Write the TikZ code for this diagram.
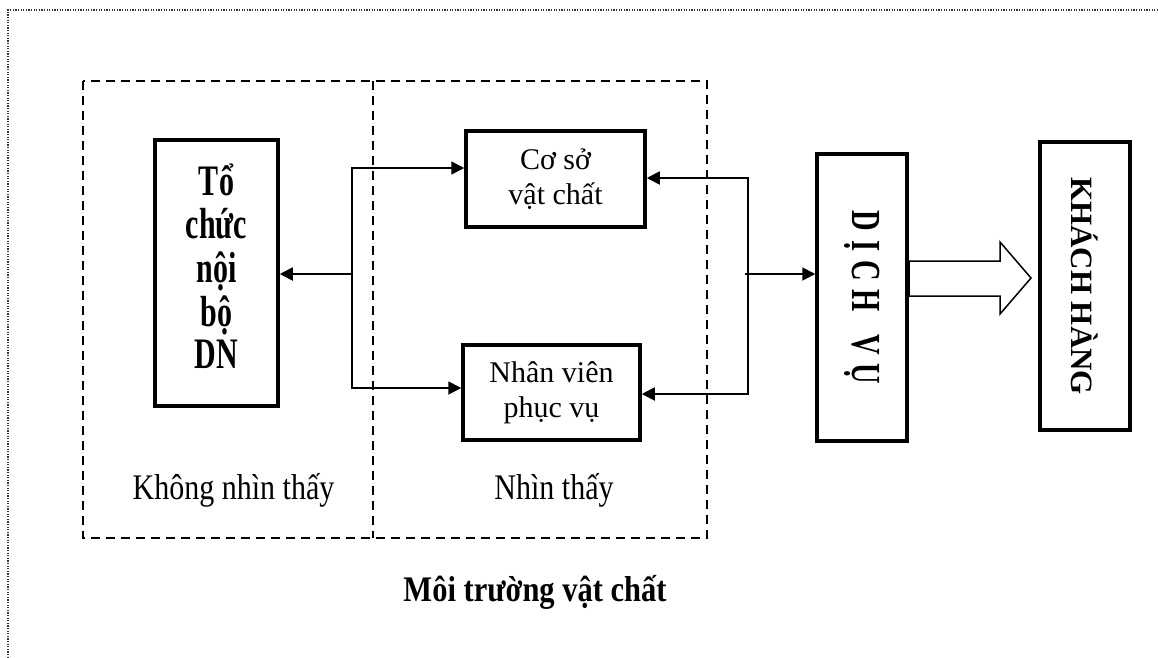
\documentclass[tikz,border=0pt]{standalone}
\usepackage{fontspec}
\setmainfont{Liberation Serif}
\usepackage{graphicx}
\usetikzlibrary{arrows.meta,calc}
\begin{document}
\begin{tikzpicture}[x=1pt,y=-1pt,
  box/.style={draw,line width=3.5pt,inner sep=0pt,align=center},
  region/.style={draw,line width=1.8pt,dash pattern=on 9pt off 6pt},
  conn/.style={line width=1.8pt},
  tip/.tip={Triangle[length=13pt,width=13pt]},
  arr/.style={conn,-tip},
  txt/.style={font=\fontsize{30}{35}\selectfont},
  btxt/.style={font=\bfseries\fontsize{30.5}{35}\selectfont},
]
\useasboundingbox (0,0) rectangle (1158,657);
% page frame
\draw[line width=1.2pt, dash pattern=on 1.2pt off 1.4pt, black!80] (1158,10) -- (8,10) -- (8,657);
% regions
\draw[region] (83,81) rectangle (707,538);
\draw[region] (373,81) -- (373,538);
% boxes
\node[box, minimum width=123pt, minimum height=266pt, font=\bfseries\fontsize{30}{29.6}\selectfont] (tochuc) at (216.5,273)
  {\scalebox{1}[1.45]{\begin{tabular}{@{}c@{}}Tổ\\chức\\nội\\bộ\\DN\end{tabular}}};
\node[box, txt, minimum width=179pt, minimum height=96pt] (coso) at (555.5,179) {Cơ sở\\vật chất};
\node[box, txt, minimum width=177pt, minimum height=95pt] (nhanvien) at (551.5,392.5) {Nhân viên\\phục vụ};
\node[box, minimum width=90pt, minimum height=287pt] (dichvu) at (862,297.5)
  {\rotatebox{-90}{\scalebox{1}[1.45]{\bfseries\fontsize{28.5}{35}\selectfont D\hspace{9pt}Ị\hspace{9pt}C\hspace{9pt}H\hspace{22pt}V\hspace{9pt}Ụ}}};
\node[box, minimum width=90pt, minimum height=288pt] (khach) at (1085,286)
  {\rotatebox{-90}{\bfseries\fontsize{31}{35}\selectfont KHÁCH HÀNG}};
% labels
\node[txt] (khongnt) at (233.5,490) {\scalebox{1}[1.2]{Không nhìn thấy}};
\node[txt] (nt) at (554,490) {\scalebox{1}[1.2]{Nhìn thấy}};
\node[btxt] (moitruong) at (535,592) {\scalebox{1}[1.18]{Môi trường vật chất}};
% connectors left
\coordinate (lj) at (352,274);
\coordinate (ljt) at (352,168);
\coordinate (ljb) at (352,388);
\draw[conn,tip-tip] (ljt -| coso.west) -- (ljt) -- (ljb) -- (ljb -| nhanvien.west);
\draw[arr] (lj) -- (lj -| tochuc.east);
% connectors right
\coordinate (rj) at (745,274);
\coordinate (rjt) at (748,178);
\coordinate (rjb) at (748,394);
\draw[conn,tip-tip] (rjt -| coso.east) -- (rjt) -- (rjb) -- (rjb -| nhanvien.east);
\draw[arr] (rj) -- (rj -| dichvu.west);
% block arrow
\draw[line width=1.5pt, line join=miter] (909,261) -- (1000,261) -- (1000,242) -- (1031,278) -- (1000,314) -- (1000,296) -- (909,296) -- cycle;
\end{tikzpicture}
\end{document}
